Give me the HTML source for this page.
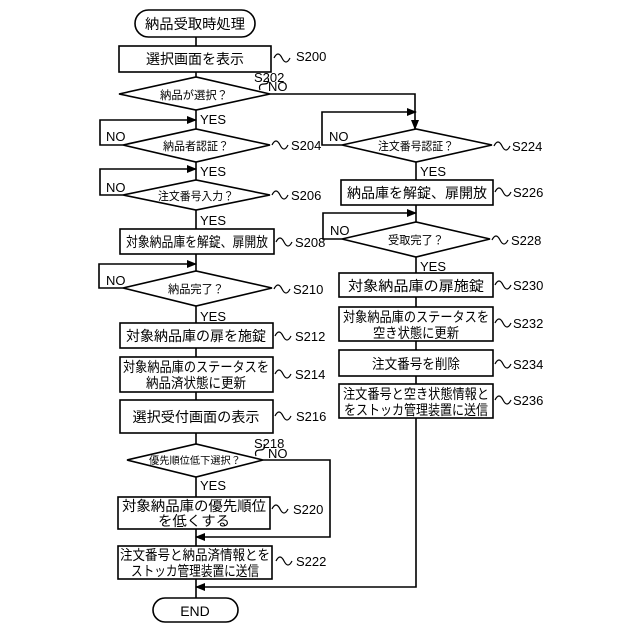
<!DOCTYPE html>
<html><head><meta charset="utf-8"><style>
html,body{margin:0;padding:0;background:#fff;}
svg{display:block;}
text{font-family:"Liberation Sans","Noto Sans CJK JP",sans-serif;fill:#000;}
.b{font-size:14px;text-anchor:middle;}
.d{font-size:11.5px;text-anchor:middle;}
.l{font-size:13px;}
</style></head><body>
<svg width="640" height="640" viewBox="0 0 640 640" xmlns="http://www.w3.org/2000/svg">
<defs><marker id="a" markerWidth="10" markerHeight="8" refX="9" refY="4" orient="auto" markerUnits="userSpaceOnUse"><path d="M0,0 L10,4 L0,8 z" fill="#000"/></marker></defs>
<g fill="none" stroke="#000" stroke-width="1.6">
<line x1="196" y1="37" x2="196" y2="598"/>
<line x1="416" y1="145" x2="416" y2="418"/>
</g>
<g fill="#fff" stroke="#000" stroke-width="1.6">
<rect x="135" y="10" width="120" height="27" rx="13.5"/>
<rect x="119" y="46" width="152" height="26"/>
<polygon points="119,94 196,77 270,94 196,110"/>
<polygon points="123,145 196,129 270,145 196,162"/>
<polygon points="123,195 196,180 270,195 196,210"/>
<rect x="120" y="229" width="154" height="25"/>
<polygon points="123,288 196,271 272,288 196,306"/>
<rect x="120" y="323" width="153" height="25"/>
<rect x="120" y="357" width="153" height="35"/>
<rect x="120" y="400" width="153" height="33"/>
<polygon points="127,460 196,444 263,460 196,477"/>
<rect x="118" y="497" width="152" height="32"/>
<rect x="118" y="546" width="154" height="33"/>
<rect x="153" y="598" width="85" height="24" rx="12"/>
<polygon points="342,145 416,129 492,145 416,162"/>
<rect x="341" y="180" width="152" height="25"/>
<polygon points="342,239 416,222 490,239 416,257"/>
<rect x="339" y="273" width="154" height="24"/>
<rect x="339" y="307" width="154" height="34"/>
<rect x="339" y="350" width="154" height="26"/>
<rect x="339" y="384" width="154" height="34"/>
</g>
<g fill="none" stroke="#000" stroke-width="1.6">
<polyline points="270,94 415,94 415,129" marker-end="url(#a)"/>
<polyline points="123,145 100,145 100,120 196,120" marker-end="url(#a)"/>
<polyline points="123,195 100,195 100,169 196,169" marker-end="url(#a)"/>
<polyline points="123,288 99,288 99,264 196,264" marker-end="url(#a)"/>
<polyline points="263,460 330,460 330,537 196,537" marker-end="url(#a)"/>
<polyline points="416,418 416,587 196,587" marker-end="url(#a)"/>
<polyline points="342,145 322,145 322,112 416,112" marker-end="url(#a)"/>
<polyline points="342,239 323,239 323,213 416,213" marker-end="url(#a)"/>
</g>
<g fill="none" stroke="#000" stroke-width="1.2">
<path d="M274,58 q4,-8 8,0 t8,0"/>
<path d="M260,90 q-2,-6 4,-6 t4,-6"/>
<path d="M272,145 q4,-8 8,0 t8,0"/>
<path d="M272,195 q4,-8 8,0 t8,0"/>
<path d="M276,242 q4,-8 8,0 t8,0"/>
<path d="M274,289 q4,-8 8,0 t8,0"/>
<path d="M275,336 q4,-8 8,0 t8,0"/>
<path d="M275,374 q4,-8 8,0 t8,0"/>
<path d="M275,416 q4,-8 8,0 t8,0"/>
<path d="M256,456 q-2,-6 4,-6 t4,-6"/>
<path d="M272,509 q4,-8 8,0 t8,0"/>
<path d="M276,561 q4,-8 8,0 t8,0"/>
<path d="M494,146 q4,-8 8,0 t8,0"/>
<path d="M495,192 q4,-8 8,0 t8,0"/>
<path d="M492,240 q4,-8 8,0 t8,0"/>
<path d="M495,285 q4,-8 8,0 t8,0"/>
<path d="M495,323 q4,-8 8,0 t8,0"/>
<path d="M495,364 q4,-8 8,0 t8,0"/>
<path d="M495,400 q4,-8 8,0 t8,0"/>
</g>
<text class="b" x="195" y="29" textLength="100" lengthAdjust="spacingAndGlyphs">納品受取時処理</text>
<text class="b" x="195" y="64" textLength="98" lengthAdjust="spacingAndGlyphs">選択画面を表示</text>
<text class="d" x="194" y="99" textLength="68" lengthAdjust="spacingAndGlyphs">納品が選択？</text>
<text class="d" x="196" y="150" textLength="66" lengthAdjust="spacingAndGlyphs">納品者認証？</text>
<text class="d" x="196" y="200" textLength="76" lengthAdjust="spacingAndGlyphs">注文番号入力？</text>
<text class="b" x="197" y="247" textLength="142" lengthAdjust="spacingAndGlyphs">対象納品庫を解錠、扉開放</text>
<text class="d" x="196" y="293" textLength="56" lengthAdjust="spacingAndGlyphs">納品完了？</text>
<text class="b" x="196" y="341" textLength="140" lengthAdjust="spacingAndGlyphs">対象納品庫の扉を施錠</text>
<text class="b" x="196" y="372" textLength="146" lengthAdjust="spacingAndGlyphs">対象納品庫のステータスを</text>
<text class="b" x="196" y="388" textLength="100" lengthAdjust="spacingAndGlyphs">納品済状態に更新</text>
<text class="b" x="196" y="422" textLength="127" lengthAdjust="spacingAndGlyphs">選択受付画面の表示</text>
<text class="d" x="195" y="464" textLength="92" lengthAdjust="spacingAndGlyphs" style="font-size:10px">優先順位低下選択？</text>
<text class="b" x="194" y="511" textLength="144" lengthAdjust="spacingAndGlyphs">対象納品庫の優先順位</text>
<text class="b" x="194" y="526" textLength="72" lengthAdjust="spacingAndGlyphs">を低くする</text>
<text class="b" x="195" y="560" textLength="150" lengthAdjust="spacingAndGlyphs">注文番号と納品済情報とを</text>
<text class="b" x="195" y="576" textLength="128" lengthAdjust="spacingAndGlyphs">ストッカ管理装置に送信</text>
<text class="b" x="195" y="616">END</text>
<text class="d" x="416" y="150" textLength="76" lengthAdjust="spacingAndGlyphs">注文番号認証？</text>
<text class="b" x="417" y="198" textLength="140" lengthAdjust="spacingAndGlyphs">納品庫を解錠、扉開放</text>
<text class="d" x="416" y="244" textLength="56" lengthAdjust="spacingAndGlyphs">受取完了？</text>
<text class="b" x="416" y="291" textLength="136" lengthAdjust="spacingAndGlyphs">対象納品庫の扉施錠</text>
<text class="b" x="416" y="322" textLength="146" lengthAdjust="spacingAndGlyphs">対象納品庫のステータスを</text>
<text class="b" x="416" y="338" textLength="86" lengthAdjust="spacingAndGlyphs">空き状態に更新</text>
<text class="b" x="416" y="369" textLength="88" lengthAdjust="spacingAndGlyphs">注文番号を削除</text>
<text class="b" x="416" y="399" textLength="146" lengthAdjust="spacingAndGlyphs">注文番号と空き状態情報と</text>
<text class="b" x="416" y="415" textLength="144" lengthAdjust="spacingAndGlyphs">をストッカ管理装置に送信</text>
<g class="l">
<text x="200" y="124">YES</text>
<text x="200" y="176">YES</text>
<text x="200" y="225">YES</text>
<text x="200" y="321">YES</text>
<text x="200" y="490">YES</text>
<text x="420" y="176">YES</text>
<text x="420" y="271">YES</text>
<text x="268" y="91">NO</text>
<text x="106" y="141">NO</text>
<text x="106" y="192">NO</text>
<text x="106" y="285">NO</text>
<text x="268" y="458">NO</text>
<text x="329" y="141">NO</text>
<text x="330" y="235">NO</text>
<text x="296" y="61">S200</text>
<text x="254" y="82">S202</text>
<text x="291" y="150">S204</text>
<text x="291" y="200">S206</text>
<text x="295" y="247">S208</text>
<text x="293" y="294">S210</text>
<text x="295" y="341">S212</text>
<text x="295" y="379">S214</text>
<text x="296" y="421">S216</text>
<text x="254" y="448">S218</text>
<text x="293" y="514">S220</text>
<text x="296" y="566">S222</text>
<text x="512" y="151">S224</text>
<text x="513" y="197">S226</text>
<text x="511" y="245">S228</text>
<text x="513" y="290">S230</text>
<text x="513" y="328">S232</text>
<text x="513" y="369">S234</text>
<text x="513" y="405">S236</text>
</g>
</svg>
</body></html>
